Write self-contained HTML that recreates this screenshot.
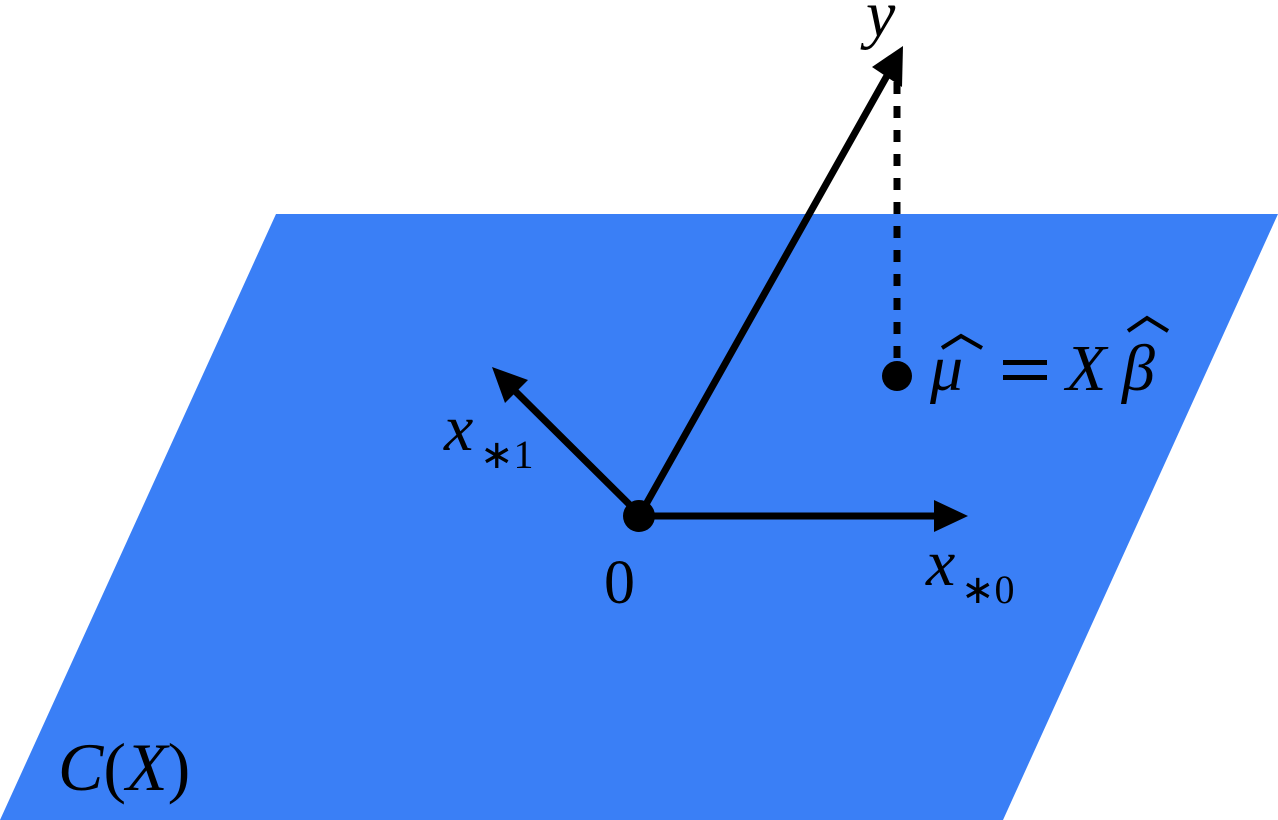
<!DOCTYPE html>
<html><head><meta charset="utf-8"><style>
html,body{margin:0;padding:0;background:#fff;width:1278px;height:820px;overflow:hidden}
text{font-family:"Liberation Serif",serif;fill:#000}
.i{font-style:italic}
.n{font-style:normal}
</style></head><body>
<svg width="1278" height="820" viewBox="0 0 1278 820" xmlns="http://www.w3.org/2000/svg">
<polygon points="276,214 1278,214 1003,820 0,820" fill="#3A7FF6"/>
<line x1="897" y1="82" x2="897" y2="360" stroke="#000" stroke-width="7" stroke-dasharray="12,12"/>
<line x1="640" y1="515" x2="888" y2="74" stroke="#000" stroke-width="7"/>
<polygon points="903,46 902,87 872,67" fill="#000"/>
<line x1="640" y1="515" x2="512" y2="388" stroke="#000" stroke-width="7"/>
<polygon points="492,367 528,380 505,403" fill="#000"/>
<line x1="640" y1="516" x2="940" y2="516" stroke="#000" stroke-width="7"/>
<polygon points="968,516 934,500 934,532" fill="#000"/>
<circle cx="639" cy="516" r="16" fill="#000"/>
<circle cx="897" cy="376" r="15" fill="#000"/>
<text class="i" x="866" y="36" font-size="66">y</text>
<text class="i" x="444" y="450" font-size="66">x</text>
<text class="n" x="480" y="468" font-size="40">∗1</text>
<text class="i" x="926" y="585" font-size="66">x</text>
<text class="n" x="961" y="603" font-size="40">∗0</text>
<text class="n" x="604" y="603" font-size="62">0</text>
<text x="58" y="790" font-size="68"><tspan class="i">C</tspan><tspan class="n">(</tspan><tspan class="i">X</tspan><tspan class="n">)</tspan></text>
<text class="i" x="930" y="390" font-size="66">μ</text>
<polyline points="942,348 961,336 982,348" fill="none" stroke="#000" stroke-width="4"/>
<rect x="1003" y="360" width="44" height="5" fill="#000"/>
<rect x="1003" y="375" width="44" height="5" fill="#000"/>
<text class="i" x="1066" y="390" font-size="66">X</text>
<text class="i" x="1122" y="390" font-size="66">β</text>
<polyline points="1128,331 1147,318 1168,331" fill="none" stroke="#000" stroke-width="4"/>
</svg>
</body></html>
